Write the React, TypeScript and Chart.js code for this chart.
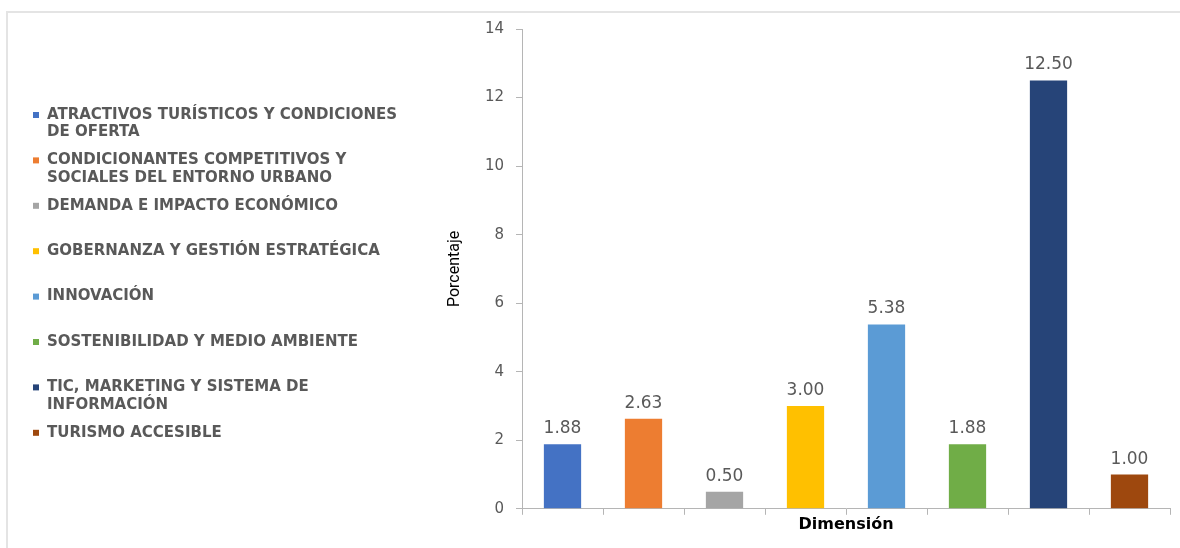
import React, { useEffect, useRef } from "react";
import { Chart, registerables } from "chart.js";

Chart.register(...registerables);

// ---- data ----
const categories: string[][] = [
  ["ATRACTIVOS TURÍSTICOS Y CONDICIONES", "DE OFERTA"],
  ["CONDICIONANTES COMPETITIVOS Y", "SOCIALES DEL ENTORNO URBANO"],
  ["DEMANDA E IMPACTO ECONÓMICO"],
  ["GOBERNANZA Y GESTIÓN ESTRATÉGICA"],
  ["INNOVACIÓN"],
  ["SOSTENIBILIDAD Y MEDIO AMBIENTE"],
  ["TIC, MARKETING Y SISTEMA DE", "INFORMACIÓN"],
  ["TURISMO ACCESIBLE"],
];
const values: number[] = [1.88, 2.63, 0.5, 3.0, 5.38, 1.88, 12.5, 1.0];
const barColors: string[] = [
  "#4472C4",
  "#ED7D31",
  "#A5A5A5",
  "#FFC000",
  "#5B9BD5",
  "#70AD47",
  "#264478",
  "#9E480E",
];
const yMin = 0;
const yMax = 14;
const yStep = 2;
const xTitle = "Dimensión";
const yTitle = "Porcentaje";

const TEXT_GRAY = "#595959";

const framePlugin = {
  id: "frame",
  beforeDraw(chart: any) {
    const ctx = chart.ctx;
    ctx.save();
    ctx.strokeStyle = "#e4e4e4";
    ctx.lineWidth = 2;
    ctx.beginPath();
    ctx.moveTo(7, chart.height);
    ctx.lineTo(7, 12);
    ctx.lineTo(chart.width, 12);
    ctx.stroke();
    ctx.restore();
  },
};

const legendPlugin = {
  id: "sideLegend",
  afterDraw(chart: any) {
    const ctx = chart.ctx;
    const labels = chart.data.labels as string[][];
    const colors = chart.data.datasets[0].backgroundColor as string[];
    const startY = 115;
    const pitch = 45.4;
    const lineH = 17.5;
    ctx.save();
    ctx.font = "bold 15px 'DejaVu Sans', sans-serif";
    ctx.textBaseline = "middle";
    ctx.textAlign = "left";
    labels.forEach((lines, i) => {
      const cy = startY + i * pitch;
      ctx.fillStyle = colors[i];
      ctx.fillRect(33, cy - 3, 6, 6);
      ctx.fillStyle = TEXT_GRAY;
      lines.forEach((ln, j) => {
        ctx.fillText(ln, 47, cy + j * lineH);
      });
    });
    ctx.restore();
  },
};

const valueLabelPlugin = {
  id: "valueLabels",
  afterDatasetsDraw(chart: any) {
    const ctx = chart.ctx;
    const meta = chart.getDatasetMeta(0);
    const data = chart.data.datasets[0].data as number[];
    ctx.save();
    ctx.font = "17px 'DejaVu Sans', sans-serif";
    ctx.fillStyle = TEXT_GRAY;
    ctx.textAlign = "center";
    ctx.textBaseline = "alphabetic";
    meta.data.forEach((el: any, i: number) => {
      ctx.fillText(data[i].toFixed(2), el.x, el.y - 11);
    });
    ctx.restore();
  },
};

export default function App() {
  const canvasRef = useRef<HTMLCanvasElement | null>(null);

  useEffect(() => {
    document.body.style.margin = "0";
    const canvas = canvasRef.current;
    if (!canvas) return;
    const chart = new Chart(canvas, {
      type: "bar",
      data: {
        labels: categories,
        datasets: [
          {
            data: values,
            backgroundColor: barColors,
            borderWidth: 0,
            barPercentage: 0.46,
            categoryPercentage: 1,
          },
        ],
      },
      options: {
        animation: false,
        responsive: false,
        maintainAspectRatio: false,
        layout: { padding: { left: 440, right: 10, top: 29, bottom: 10 } },
        plugins: {
          legend: { display: false },
          tooltip: { enabled: false },
        },
        scales: {
          x: {
            grid: {
              display: true,
              drawOnChartArea: false,
              drawTicks: true,
              tickLength: 6,
              color: "#b5b5b5",
              offset: true,
            },
            border: { display: true, color: "#b5b5b5", width: 1 },
            ticks: { display: false },
            title: {
              display: true,
              text: xTitle,
              color: "#000000",
              font: { family: "'DejaVu Sans', sans-serif", size: 16, weight: "bold" },
              padding: { top: 0, bottom: 4 },
            },
          },
          y: {
            min: yMin,
            max: yMax,
            afterFit(scale: any) {
              scale.width = 82;
            },
            ticks: {
              stepSize: yStep,
              color: TEXT_GRAY,
              padding: 12,
              font: { family: "'DejaVu Sans', sans-serif", size: 15 },
            },
            grid: {
              display: true,
              drawOnChartArea: false,
              drawTicks: true,
              tickLength: 6,
              color: "#b5b5b5",
            },
            border: { display: true, color: "#b5b5b5", width: 1 },
            title: {
              display: true,
              text: yTitle,
              color: "#000000",
              font: { family: "'Liberation Sans Narrow', 'Roboto', sans-serif", size: 16 },
              padding: { top: 5, bottom: 0 },
            },
          },
        },
      },
      plugins: [framePlugin, legendPlugin, valueLabelPlugin],
    } as any);
    return () => chart.destroy();
  }, []);

  return (
    <div style={{ width: 1180, height: 548, background: "#ffffff" }}>
      <canvas ref={canvasRef} width={1180} height={548} style={{ display: "block" }} />
    </div>
  );
}
